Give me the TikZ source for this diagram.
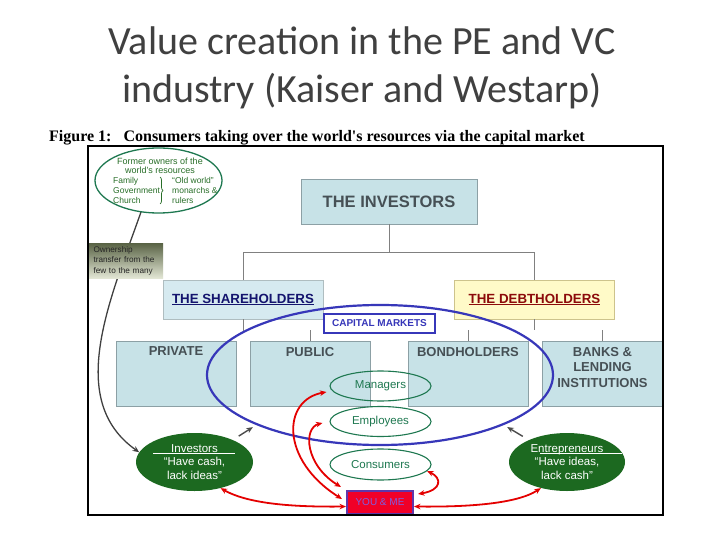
\documentclass[tikz,border=0pt]{standalone}
\usepackage{fontspec}
\setmainfont{Liberation Sans}
\newfontfamily\titlefont{Carlito}
\newfontfamily\capfont{Liberation Serif}
\usetikzlibrary{positioning,shapes.geometric,arrows.meta,decorations.pathreplacing}
\definecolor{boxblue}{RGB}{199,226,231}
\definecolor{boxline}{RGB}{140,160,165}
\definecolor{boxtext}{RGB}{70,80,85}
\definecolor{shblue}{RGB}{214,234,240}
\definecolor{dhyellow}{RGB}{255,250,200}
\definecolor{dhline}{RGB}{205,195,140}
\definecolor{navy}{RGB}{20,20,110}
\definecolor{darkred}{RGB}{140,10,10}
\definecolor{cmblue}{RGB}{55,55,185}
\definecolor{mygreen}{RGB}{30,120,80}
\definecolor{darkgreen}{RGB}{28,105,32}
\definecolor{oldgreen}{RGB}{40,110,40}
\definecolor{linkred}{RGB}{228,0,0}
\definecolor{youred}{RGB}{240,0,40}
\definecolor{youline}{RGB}{95,55,170}
\definecolor{youtext}{RGB}{125,95,225}
\definecolor{olive}{RGB}{88,98,68}
\definecolor{palegreen}{RGB}{226,230,212}
\definecolor{titlegray}{RGB}{64,64,64}

\begin{document}
\begin{tikzpicture}[x=1pt,y=-1pt,
  every node/.style={inner sep=0pt},
  >={Stealth[length=6.5pt,width=5.5pt]},
  topbox/.style={draw=boxline,fill=boxblue,minimum width=176pt,minimum height=45pt,text=boxtext,font=\bfseries\fontsize{16.5}{19}\selectfont},
  headbox/.style={draw=boxline!70,minimum width=160pt,minimum height=39pt,font=\bfseries\fontsize{13.3}{15}\selectfont},
  subbox/.style={draw=boxline,fill=boxblue,minimum width=120pt,minimum height=65pt},
  subtext/.style={text=boxtext,align=center,font=\bfseries\fontsize{13}{15.5}\selectfont},
  person/.style={ellipse,draw=mygreen,line width=1.1pt,text=mygreen,minimum width=101pt,minimum height=30pt,font=\fontsize{11.5}{13}\selectfont},
  party/.style={ellipse,fill=darkgreen,minimum width=117pt,minimum height=58pt,text=white,align=center,font=\fontsize{11.5}{13.5}\selectfont},
  oldtext/.style={text=oldgreen,align=left,font=\fontsize{8.5}{10}\selectfont},
  link/.style={<->,draw=linkred,line width=1.8pt},
  push/.style={->,draw=black!70,line width=1.4pt,shorten <=7pt,shorten >=4pt},
  tree/.style={draw=black!50,line width=0.8pt}
]
\fill[white] (0,0) rectangle (720,540);
\useasboundingbox (0,0) rectangle (720,540);

% the title
\node[font=\titlefont\fontsize{40}{48}\selectfont,text=titlegray,align=center] (title) at (362,68)
  {Value creation in the PE and VC\\industry (Kaiser and Westarp)};
\node[anchor=west,font=\capfont\bfseries\fontsize{16}{18}\selectfont] (caption) at (49,138)
  {Figure 1:\hspace{12pt}Consumers taking over the world's resources via the capital market};

% the boxes
\node[topbox] (inv) at (389,201.5) {THE INVESTORS};
\node[headbox,fill=shblue,text=navy] (sh) at (243,299.5) {\underline{THE SHAREHOLDERS}};
\node[headbox,draw=dhline,fill=dhyellow,text=darkred] (dh) at (534.5,299.5) {\underline{THE DEBTHOLDERS}};
\node[subbox] (priv) at (176,373.5) {};
\node[subbox] (pub) at (310,373.5) {};
\node[subbox] (bond) at (468,373.5) {};
\node[subbox,minimum width=121pt] (bank) at (602.5,373.5) {};
\node[subtext,below=6pt of priv.north] {PRIVATE};
\node[subtext,below=6pt of pub.north] {PUBLIC};
\node[subtext,below=6pt of bond.north] {BONDHOLDERS};
\node[subtext,below=6pt of bank.north] {BANKS \&\\LENDING\\INSTITUTIONS};

% the tree
\draw[tree] (inv.south) -- ++(0,28) -| (sh.north);
\draw[tree] (inv.south) ++(0,28) -| (dh.north);
\draw[tree] (sh.south) -- ++(0,12);
\draw[tree] (pub.north) -- ++(0,-11);
\draw[tree] (dh.south) -- ++(0,11);
\draw[tree] (bond.north) -- ++(0,-11);
\draw[tree] (bank.north) -- ++(0,-11);

% the capital market
\node[ellipse,draw=cmblue,line width=2.2pt,minimum width=346pt,minimum height=140pt] (cm) at (380,375) {};
\node[draw=cmblue,line width=2pt,fill=white,minimum width=111pt,minimum height=19pt,text=cmblue,font=\bfseries\fontsize{10}{12}\selectfont] (cmlabel) at (379.5,323.5) {CAPITAL MARKETS};

% the people
\node[person] (mgr) at (380.5,386) {Managers};
\node[person,fill=white] (emp) at (380.5,421.5) {Employees};
\node[person,fill=white,minimum height=31pt] (cons) at (380.5,464.5) {Consumers};
\node[draw=youline,line width=2pt,fill=youred,minimum width=66pt,minimum height=23pt,text=youtext,font=\fontsize{10}{12}\selectfont] (you) at (380,502.5) {YOU \& ME};
\node[party] (ivr) at (194.5,462) {Investors\\“Have cash,\\lack ideas”};
\node[party,minimum width=116pt] (ent) at (567,462) {Entrepreneurs\\“Have ideas,\\lack cash”};
\draw[white,line width=0.9pt] (ivr.center) ++(-41.5,-9) -- ++(82,0);
\draw[white,line width=0.9pt] (ent.center) ++(-27,-9) -- ++(82,0);

% the links
\draw[link] (ivr.-45) .. controls (250,505) and (300,507) .. ([yshift=-4pt]you.west);
\draw[link] (ent.-135) .. controls (515,505) and (460,507) .. ([yshift=-4pt]you.east);
\draw[link] (cons.-8) .. controls (442,478) and (442,490) .. ([xshift=4pt,yshift=-4pt]you.north east);
\draw[link] ([xshift=-3pt,yshift=-6pt]mgr.west) .. controls (282,400) and (280,460) .. ([xshift=-4pt,yshift=3.5pt]you.west);
\draw[link] ([xshift=-7pt,yshift=-1.5pt]emp.west) .. controls (303,428) and (305,465) .. ([xshift=-5pt,yshift=3pt]you.north west);
\draw[push] (ivr.30) -- (cm.-158);
\draw[push] (ent.150) -- (cm.-22);

% the former owners
\draw[->,draw=black!75,line width=1.3pt] (158,213) ++(-17,-1) coordinate (start)
  (start) .. controls (110,300) and (65,400) .. (ivr.170);
\node[ellipse,draw=mygreen,line width=1.3pt,fill=white,minimum width=127pt,minimum height=65pt] (owners) at (158.5,180.5) {};
\node[oldtext,font=\fontsize{9}{10}\selectfont] (own1) at (160,161) {Former owners of the};
\node[oldtext,font=\fontsize{9}{10}\selectfont] (own2) at (160,170.5) {world's resources};
\node[oldtext,anchor=west] (own3) at (113,190.5) {Family\\Government\\Church};
\node[oldtext,anchor=west] (own4) at (172,190.5) {“Old world”\\monarchs \&\\rulers};
\draw[oldgreen,line width=0.7pt,decorate,decoration={brace,amplitude=3pt}] (160,177) -- (160,204);
\node[top color=olive,bottom color=palegreen,minimum width=75pt,minimum height=35pt,text width=64pt,align=left,text=black!85,font=\fontsize{8.2}{10.5}\selectfont] (transfer) at (125.5,260.5)
  {Ownership\\transfer from the\\few to the many};

% the frame
\draw[line width=1.5pt] (88,146) rectangle (663,515);
\end{tikzpicture}
\end{document}
